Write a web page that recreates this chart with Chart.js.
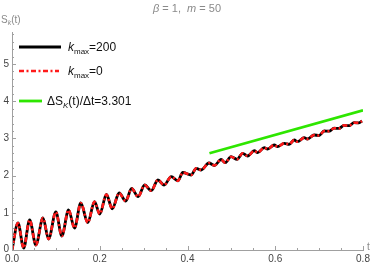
<!DOCTYPE html>
<html lang="en">
<head>
    <meta charset="UTF-8">
    <title>S_k(t), beta = 1, m = 50</title>
    <style>
        html, body { margin: 0; padding: 0; background: #fff; }
        canvas { display: block; }
    </style>
</head>
<body>
    <canvas id="entropyChart" width="374" height="265"></canvas>

    <script src="https://cdn.jsdelivr.net/npm/chart.js"></script>
    <script>
        // values (peaks and troughs of the oscillation)
        const tVals = [0, 0.0136, 0.0266, 0.0402, 0.0545, 0.0705, 0.0834, 0.1, 0.1136, 0.1289,
            0.1425, 0.1568, 0.1727, 0.188, 0.2, 0.2152, 0.2284, 0.2443, 0.2591, 0.2727,
            0.2875, 0.3023, 0.3175, 0.3325, 0.3466, 0.363, 0.378, 0.3893, 0.4084, 0.4198,
            0.4311, 0.4489, 0.4614, 0.4766, 0.4857, 0.4993, 0.513, 0.5257, 0.537, 0.5523,
            0.5598, 0.575, 0.5825, 0.5977, 0.6052, 0.6205, 0.6318, 0.6432, 0.6507, 0.6659,
            0.6734, 0.6886, 0.7, 0.7114, 0.7227, 0.7341, 0.7455, 0.7568, 0.7682, 0.7795,
            0.7909, 0.7977];
        const sK200 = [0, 0.726, 0.054, 0.806, 0.134, 0.860, 0.296, 1.022, 0.376, 1.075,
            0.591, 1.263, 0.734, 1.298, 0.968, 1.492, 1.108, 1.532, 1.317, 1.653,
            1.433, 1.747, 1.594, 1.882, 1.747, 1.970, 1.860, 2.083, 2.016, 2.196,
            2.151, 2.339, 2.272, 2.433, 2.347, 2.508, 2.438, 2.599, 2.527, 2.669,
            2.616, 2.750, 2.715, 2.823, 2.777, 2.868, 2.841, 2.957, 2.911, 3.019,
            2.984, 3.091, 3.078, 3.199, 3.194, 3.274, 3.269, 3.349, 3.341, 3.422,
            3.417, 3.468];
        // k_max=0 lies on top of k_max=200 everywhere in the picture
        const sK0 = sK200;

        const slopeT = [0.45, 0.8];
        const slopeS = [2.60, 3.755];

        const xTicks = [0, 0.2, 0.4, 0.6, 0.8];
        const yTicks = [0, 1, 2, 3, 4, 5];

        const FONT = '"Liberation Sans", Arial, sans-serif';
        const RED_DASH = [5, 2.5, 2, 2.5];

        function pts(xs, ys) {
            return xs.map((x, i) => ({ x: x, y: ys[i] }));
        }

        // draws a run of text pieces (for subscripts / italics), returns end x
        function rich(ctx, x, y, parts, color) {
            let cx = x;
            ctx.fillStyle = color;
            ctx.textBaseline = 'alphabetic';
            ctx.textAlign = 'left';
            parts.forEach(p => {
                ctx.font = (p.i ? 'italic ' : '') + p.s + 'px ' + FONT;
                ctx.fillText(p.t, cx, y + (p.dy || 0));
                cx += ctx.measureText(p.t).width;
            });
            return cx;
        }

        function richWidth(ctx, parts) {
            let w = 0;
            parts.forEach(p => {
                ctx.font = (p.i ? 'italic ' : '') + p.s + 'px ' + FONT;
                w += ctx.measureText(p.t).width;
            });
            return w;
        }

        const decor = {
            id: 'decor',
            afterDraw(chart) {
                const ctx = chart.ctx;
                const xs = chart.scales.x, ys = chart.scales.y;
                const x0 = xs.getPixelForValue(0), y0 = ys.getPixelForValue(0);
                const top = chart.chartArea.top, right = chart.chartArea.right;
                ctx.save();

                // axes
                ctx.strokeStyle = '#a0a0a0';
                ctx.lineWidth = 1;
                ctx.beginPath();
                ctx.moveTo(x0 + 0.5, top);
                ctx.lineTo(x0 + 0.5, y0);
                ctx.moveTo(x0, y0 + 0.5);
                ctx.lineTo(right + 1, y0 + 0.5);
                ctx.stroke();

                // ticks (inside, major + minor)
                ctx.beginPath();
                for (let k = 0; k <= 29; k++) {
                    const py = Math.round(ys.getPixelForValue(k * 0.2)) + 0.5;
                    const len = (k % 5 === 0) ? 4 : 2;
                    ctx.moveTo(x0, py);
                    ctx.lineTo(x0 + len, py);
                }
                for (let k = 0; k <= 16; k++) {
                    const px = Math.round(xs.getPixelForValue(k * 0.05)) + 0.5;
                    const len = (k % 4 === 0) ? 4 : 2;
                    ctx.moveTo(px, y0);
                    ctx.lineTo(px, y0 - len);
                }
                ctx.stroke();

                // tick labels
                ctx.fillStyle = '#444';
                ctx.font = '10px ' + FONT;
                ctx.textAlign = 'right';
                ctx.textBaseline = 'middle';
                yTicks.forEach(v => {
                    ctx.fillText(String(v), x0 - 3, ys.getPixelForValue(v) - (v === 0 ? 1 : 0));
                });
                ctx.textAlign = 'center';
                ctx.textBaseline = 'top';
                xTicks.forEach(v => {
                    ctx.fillText(v.toFixed(1), xs.getPixelForValue(v), y0 + 4);
                });

                // title
                const title = [
                    { t: 'β', s: 11, i: true }, { t: ' = 1,  ', s: 11 },
                    { t: 'm', s: 11, i: true }, { t: ' = 50', s: 11 }
                ];
                rich(ctx, 187 - richWidth(ctx, title) / 2, 12, title, '#8a8a8a');

                // axis labels
                rich(ctx, 1, 23, [
                    { t: 'S', s: 10 }, { t: 'k', s: 7, i: true, dy: 2 }, { t: '(t)', s: 10 }
                ], '#8a8a8a');
                rich(ctx, 367, 250, [{ t: 't', s: 10 }], '#8a8a8a');

                // legend
                ctx.lineCap = 'butt';
                ctx.strokeStyle = '#000';
                ctx.lineWidth = 2.8;
                ctx.setLineDash([]);
                ctx.beginPath(); ctx.moveTo(19, 47); ctx.lineTo(61, 47); ctx.stroke();

                ctx.strokeStyle = '#ff1a1a';
                ctx.lineWidth = 2.6;
                ctx.setLineDash(RED_DASH);
                ctx.beginPath(); ctx.moveTo(19, 71); ctx.lineTo(59, 71); ctx.stroke();

                ctx.strokeStyle = '#2ee600';
                ctx.lineWidth = 2.8;
                ctx.setLineDash([]);
                ctx.beginPath(); ctx.moveTo(19, 101); ctx.lineTo(42, 101); ctx.stroke();

                rich(ctx, 68, 51, [
                    { t: 'k', s: 12, i: true }, { t: 'max', s: 8, dy: 3 }, { t: '=200', s: 12 }
                ], '#111');
                rich(ctx, 68, 75, [
                    { t: 'k', s: 12, i: true }, { t: 'max', s: 8, dy: 3 }, { t: '=0', s: 12 }
                ], '#111');
                rich(ctx, 47, 105, [
                    { t: 'ΔS', s: 12 }, { t: 'K', s: 8, i: true, dy: 3 }, { t: '(t)/Δt=3.301', s: 12 }
                ], '#111');

                ctx.restore();
            }
        };

        new Chart(document.getElementById('entropyChart'), {
            type: 'line',
            data: {
                datasets: [{
                    label: 'kmax=200',
                    data: pts(tVals, sK200),
                    borderColor: '#000',
                    borderWidth: 2.8,
                    pointRadius: 0,
                    cubicInterpolationMode: 'monotone',
                    fill: false,
                    order: 2
                }, {
                    label: 'kmax=0',
                    data: pts(tVals, sK0),
                    borderColor: '#ff1a1a',
                    borderWidth: 2.6,
                    borderDash: RED_DASH,
                    pointRadius: 0,
                    cubicInterpolationMode: 'monotone',
                    fill: false,
                    order: 1
                }, {
                    label: 'slope',
                    data: pts(slopeT, slopeS),
                    borderColor: '#2ee600',
                    borderWidth: 2.8,
                    pointRadius: 0,
                    fill: false,
                    order: 0
                }]
            },
            options: {
                responsive: false,
                animation: false,
                devicePixelRatio: 1,
                layout: { padding: { top: 32, right: 11, left: 0, bottom: 0 } },
                plugins: {
                    legend: { display: false },
                    tooltip: { enabled: false }
                },
                scales: {
                    x: {
                        type: 'linear',
                        min: 0,
                        max: 0.8,
                        afterBuildTicks: s => { s.ticks = xTicks.map(v => ({ value: v })); },
                        afterFit: s => { s.height = 15; },
                        grid: { display: false },
                        border: { display: false },
                        ticks: { display: false }
                    },
                    y: {
                        type: 'linear',
                        min: 0,
                        max: 5.86,
                        afterBuildTicks: s => { s.ticks = yTicks.map(v => ({ value: v })); },
                        afterFit: s => { s.width = 12; },
                        grid: { display: false },
                        border: { display: false },
                        ticks: { display: false }
                    }
                }
            },
            plugins: [decor]
        });
    </script>
</body>
</html>
